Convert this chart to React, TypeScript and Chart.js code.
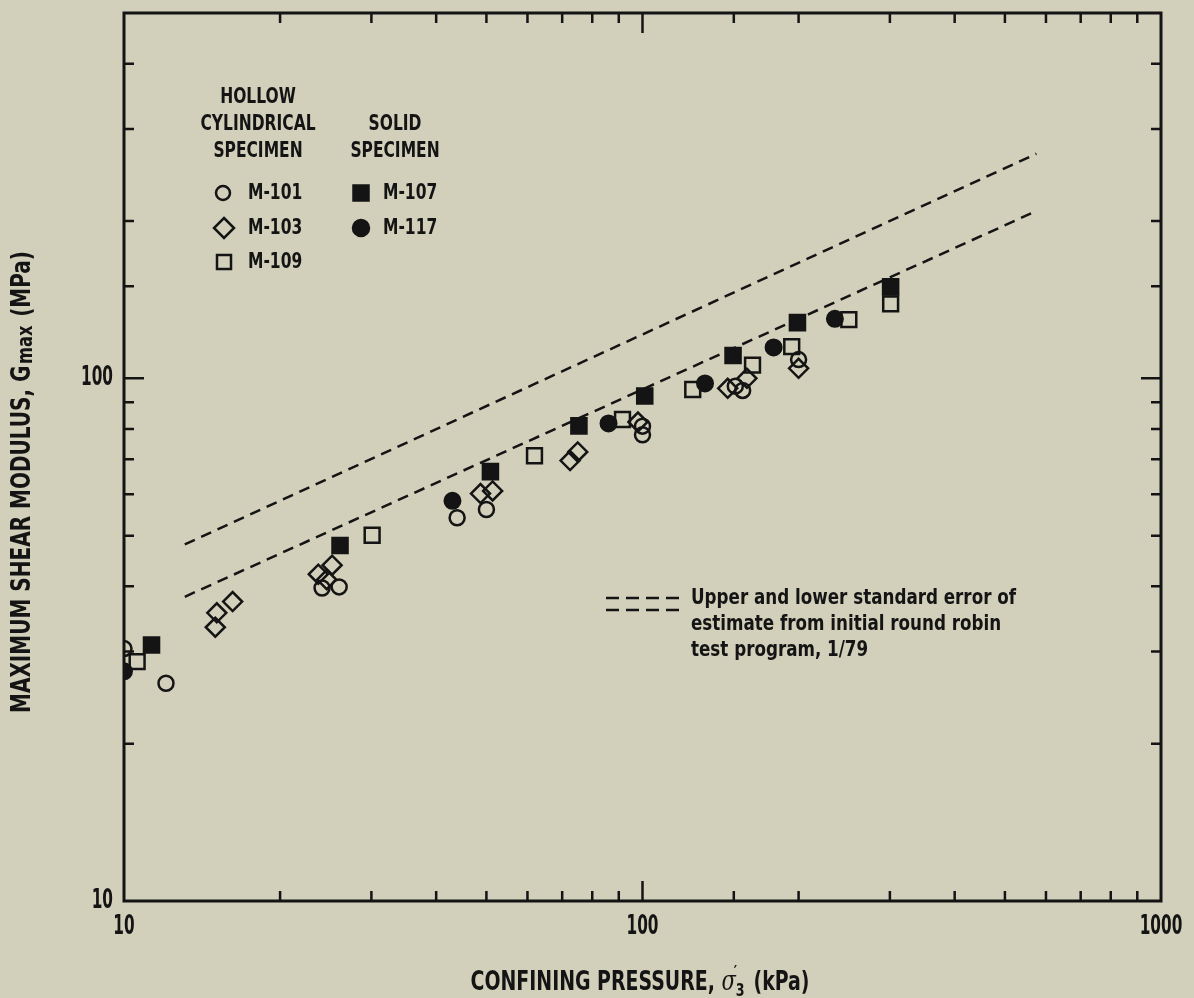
import { useEffect, useRef } from 'react';
import { Chart, registerables } from 'chart.js';

Chart.register(...registerables);

// ---- data ----
const m101X = [10, 12.05, 24.1, 26, 43.9, 50, 100, 100, 151, 156, 200];
const m101Y = [30.4, 26.1, 39.7, 39.9, 54.1, 56.1, 81, 78, 96.6, 94.8, 108.6];
const m103X = [15, 15.1, 16.2, 23.7, 24.6, 25.2, 48.7, 51.4, 72.5, 75, 98, 146, 159, 200];
const m103Y = [33.4, 35.6, 37.4, 42.2, 41.2, 43.9, 60.2, 60.9, 69.6, 72.3, 82.5, 95.7, 100, 104.5];
const m109X = [10.6, 30.1, 61.9, 91.5, 125, 163, 194, 250, 301];
const m109Y = [28.7, 50.1, 71.1, 83.4, 95.2, 106, 115, 129.5, 138.8];
const m107X = [11.3, 26.1, 50.9, 75.4, 101, 149.5, 199, 301];
const m107Y = [30.9, 47.9, 66.3, 81.1, 92.5, 110.6, 127.8, 149.6];
const m117X = [10, 43, 86, 132, 179, 235];
const m117Y = [27.5, 58.3, 82, 97.8, 114.6, 130];
const upperX = [13.1, 575];
const upperY = [48.1, 269];
const lowerX = [13.1, 575];
const lowerY = [38.2, 209];
const xTickLabels = [10, 100, 1000];
const yTickLabels = [10, 100];
const hollowTitle = ['HOLLOW', 'CYLINDRICAL', 'SPECIMEN'];
const solidTitle = ['SOLID', 'SPECIMEN'];
const hollowNames = ['M-101', 'M-103', 'M-109'];
const solidNames = ['M-107', 'M-117'];
const noteLines = ['Upper and lower standard error of', 'estimate from initial round robin', 'test program, 1/79'];

const INK = '#141414';
const BG = '#d2cfba';
const FAMILY = "'Liberation Sans Narrow', 'DejaVu Sans Condensed', 'Arial Narrow', sans-serif";

const pts = (xs: number[], ys: number[]) => xs.map((x, i) => ({ x, y: ys[i] }));
const isLabel = (v: number, list: number[]) => list.some((l) => Math.abs(l - v) < 1e-6 * l);

function marker(ctx: CanvasRenderingContext2D, style: string, x: number, y: number, r: number, filled: boolean) {
  ctx.save();
  ctx.beginPath();
  if (style === 'circle') ctx.arc(x, y, r, 0, Math.PI * 2);
  else if (style === 'rect') ctx.rect(x - r, y - r, 2 * r, 2 * r);
  else if (style === 'diamond') {
    ctx.moveTo(x, y - r);
    ctx.lineTo(x + r, y);
    ctx.lineTo(x, y + r);
    ctx.lineTo(x - r, y);
    ctx.closePath();
  }
  ctx.lineWidth = 2.5;
  ctx.strokeStyle = INK;
  ctx.fillStyle = INK;
  if (filled) ctx.fill();
  ctx.stroke();
  ctx.restore();
}

function cText(ctx: CanvasRenderingContext2D, text: string, x: number, y: number, font: string, sx: number, align: CanvasTextAlign) {
  ctx.save();
  ctx.font = font;
  ctx.textAlign = align;
  ctx.textBaseline = 'middle';
  ctx.fillStyle = INK;
  ctx.translate(x, y);
  ctx.scale(sx, 1);
  ctx.fillText(text, 0, 0);
  ctx.restore();
}

function measure(ctx: CanvasRenderingContext2D, text: string, font: string) {
  ctx.save();
  ctx.font = font;
  const w = ctx.measureText(text).width;
  ctx.restore();
  return w;
}

const decorPlugin = {
  id: 'decor',
  beforeDraw(chart: any) {
    const ctx = chart.ctx;
    ctx.save();
    ctx.fillStyle = BG;
    ctx.fillRect(0, 0, chart.width, chart.height);
    ctx.restore();
  },
  afterDraw(chart: any) {
    const ctx: CanvasRenderingContext2D = chart.ctx;
    const a = chart.chartArea;
    const xs = chart.scales.x;
    const ys = chart.scales.y;
    ctx.save();
    ctx.strokeStyle = INK;
    ctx.lineWidth = 3;
    ctx.strokeRect(a.left, a.top, a.right - a.left, a.bottom - a.top);
    ctx.lineWidth = 2.5;
    ctx.beginPath();
    xs.ticks.forEach((t: any) => {
      const p = xs.getPixelForValue(t.value);
      if (p <= a.left + 2 || p >= a.right - 2) return;
      const len = isLabel(t.value, xTickLabels) ? 20 : 10;
      ctx.moveTo(p, a.bottom);
      ctx.lineTo(p, a.bottom - len);
      ctx.moveTo(p, a.top);
      ctx.lineTo(p, a.top + len);
    });
    ys.ticks.forEach((t: any) => {
      const p = ys.getPixelForValue(t.value);
      if (p <= a.top + 2 || p >= a.bottom - 2) return;
      const len = isLabel(t.value, yTickLabels) ? 20 : 10;
      ctx.moveTo(a.left, p);
      ctx.lineTo(a.left + len, p);
      ctx.moveTo(a.right, p);
      ctx.lineTo(a.right - len, p);
    });
    ctx.stroke();

    // tick labels
    const tickFont = `bold 27px ${FAMILY}`;
    const tsx = 32 / measure(ctx, '100', tickFont);
    xTickLabels.forEach((v) => cText(ctx, String(v), xs.getPixelForValue(v), a.bottom + 26, tickFont, tsx, 'center'));
    yTickLabels.forEach((v) => cText(ctx, String(v), a.left - 11, ys.getPixelForValue(v), tickFont, tsx, 'right'));

    // legend (top-left)
    const legFont = `bold 22px ${FAMILY}`;
    const lsx = 115 / measure(ctx, 'CYLINDRICAL', legFont);
    const hy = [97, 124, 151];
    hollowTitle.forEach((s, i) => cText(ctx, s, 258, hy[i], legFont, lsx, 'center'));
    solidTitle.forEach((s, i) => cText(ctx, s, 395, hy[i + 1], legFont, lsx, 'center'));
    const ry = [193, 228, 262];
    hollowNames.forEach((s, i) => cText(ctx, s, 248, ry[i], legFont, lsx, 'left'));
    solidNames.forEach((s, i) => cText(ctx, s, 383, ry[i], legFont, lsx, 'left'));
    marker(ctx, 'circle', 223, ry[0], 7, false);
    marker(ctx, 'diamond', 224, ry[1], 10, false);
    marker(ctx, 'rect', 224, ry[2], 7, false);
    marker(ctx, 'rect', 361, ry[0], 7.5, true);
    marker(ctx, 'circle', 361, ry[1], 8, true);

    // note legend
    ctx.save();
    ctx.strokeStyle = INK;
    ctx.lineWidth = 2.5;
    ctx.setLineDash([13, 7]);
    ctx.beginPath();
    ctx.moveTo(606, 598);
    ctx.lineTo(680, 598);
    ctx.moveTo(606, 610);
    ctx.lineTo(680, 610);
    ctx.stroke();
    ctx.restore();
    const noteFont = `bold 21px ${FAMILY}`;
    const nsx = 325 / measure(ctx, noteLines[0], noteFont);
    const ny = [599, 625, 651];
    noteLines.forEach((s, i) => cText(ctx, s, 691, ny[i], noteFont, nsx, 'left'));

    // x title
    const big = `bold 27px ${FAMILY}`;
    const small = `bold 18px ${FAMILY}`;
    const greek = `italic 27px 'DejaVu Serif', 'Liberation Serif', serif`;
    const p1 = 'CONFINING PRESSURE, ';
    const p3 = ' (kPa)';
    const w1 = measure(ctx, p1, big);
    const w3 = measure(ctx, p3, big);
    const wg = measure(ctx, 'σ', greek);
    const ws = measure(ctx, '3', small) + 3;
    const raw = w1 + wg + ws + w3;
    const xsx = 339 / raw;
    let x = 640 - 339 / 2;
    const ty = 983;
    cText(ctx, p1, x, ty, big, xsx, 'left');
    x += w1 * xsx;
    cText(ctx, 'σ', x, ty, greek, xsx, 'left');
    x += wg * xsx;
    cText(ctx, '\u2032', x - 2, ty - 10, small, xsx, 'left');
    cText(ctx, '3', x, ty + 8, small, xsx, 'left');
    x += ws * xsx;
    cText(ctx, p3, x, ty, big, xsx, 'left');

    // y title (rotated)
    ctx.save();
    ctx.translate(23, 482);
    ctx.rotate(-Math.PI / 2);
    const y1 = 'MAXIMUM SHEAR MODULUS, G';
    const y2 = 'max';
    const y3 = ' (MPa)';
    const subF = `bold 22px ${FAMILY}`;
    const a1 = measure(ctx, y1, big);
    const a2 = measure(ctx, y2, subF) + 2;
    const a3 = measure(ctx, y3, big);
    const ysx = 462 / (a1 + a2 + a3 + 2);
    let yx = -231;
    cText(ctx, y1, yx, 0, big, ysx, 'left');
    yx += (a1 + 2) * ysx;
    cText(ctx, y2, yx, 3, subF, ysx, 'left');
    yx += a2 * ysx;
    cText(ctx, y3, yx, 0, big, ysx, 'left');
    ctx.restore();

    ctx.restore();
  },
};

export default function App() {
  const ref = useRef<HTMLCanvasElement | null>(null);
  useEffect(() => {
    if (!ref.current) return;
    const open = 'rgba(0,0,0,0)';
    const zeroPad = (s: any) => {
      s.paddingLeft = 0;
      s.paddingRight = 0;
      s.paddingTop = 0;
      s.paddingBottom = 0;
    };
    const chart = new Chart(ref.current, {
      type: 'scatter',
      data: {
        datasets: [
          { label: 'upper', data: pts(upperX, upperY), showLine: true, borderColor: INK, borderWidth: 2.5, borderDash: [11, 7], pointRadius: 0, pointHoverRadius: 0 },
          { label: 'lower', data: pts(lowerX, lowerY), showLine: true, borderColor: INK, borderWidth: 2.5, borderDash: [11, 7], pointRadius: 0, pointHoverRadius: 0 },
          { label: 'M-101', data: pts(m101X, m101Y), pointStyle: 'circle', pointRadius: 7.5, pointHoverRadius: 7.5, borderColor: INK, borderWidth: 2.5, backgroundColor: open },
          { label: 'M-103', data: pts(m103X, m103Y), pointStyle: 'rectRot', pointRadius: 9.5, pointHoverRadius: 9.5, borderColor: INK, borderWidth: 2.5, backgroundColor: open },
          { label: 'M-109', data: pts(m109X, m109Y), pointStyle: 'rect', pointRadius: 10.5, pointHoverRadius: 10.5, borderColor: INK, borderWidth: 2.5, backgroundColor: open },
          { label: 'M-107', data: pts(m107X, m107Y), pointStyle: 'rect', pointRadius: 11, pointHoverRadius: 11, borderColor: INK, borderWidth: 2, backgroundColor: INK },
          { label: 'M-117', data: pts(m117X, m117Y), pointStyle: 'circle', pointRadius: 8, pointHoverRadius: 8, borderColor: INK, borderWidth: 2, backgroundColor: INK },
        ],
      },
      options: {
        animation: false,
        responsive: false,
        devicePixelRatio: 1,
        events: [],
        layout: { padding: { top: 7, right: 33, left: 0, bottom: 0 } },
        plugins: { legend: { display: false }, tooltip: { enabled: false } },
        scales: {
          x: {
            type: 'logarithmic',
            position: 'bottom',
            min: 10,
            max: 1000,
            afterFit: (s: any) => { s.height = 97; zeroPad(s); },
            grid: { display: false, drawTicks: false },
            border: { display: false },
            ticks: { display: false, autoSkip: false },
          },
          y: {
            type: 'logarithmic',
            position: 'left',
            min: 10,
            max: 500,
            afterFit: (s: any) => { s.width = 124; zeroPad(s); },
            grid: { display: false, drawTicks: false },
            border: { display: false },
            ticks: { display: false, autoSkip: false },
          },
        },
      } as any,
      plugins: [decorPlugin],
    });
    return () => chart.destroy();
  }, []);
  return (
    <div style={{ position: 'fixed', left: 0, top: 0, width: 1194, height: 998, background: BG }}>
      <canvas ref={ref} width={1194} height={998} style={{ display: 'block' }} />
    </div>
  );
}
